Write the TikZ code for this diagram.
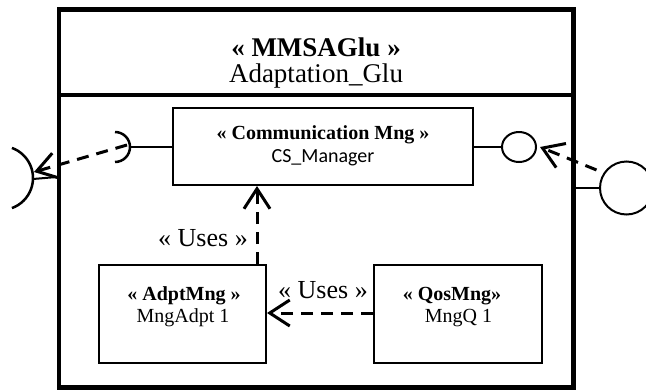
\documentclass[tikz,border=0pt]{standalone}
\usepackage{fontspec}
\setmainfont{Liberation Serif}
\newfontfamily\calibfont{Carlito}
\usetikzlibrary{arrows.meta,shapes.geometric,calc}
\begin{document}
\begin{tikzpicture}[x=1pt,y=-1pt,
  box/.style={draw,line width=2pt,inner sep=0pt},
  thinline/.style={line width=2pt},
  sockline/.style={line width=2.5pt},
  depend/.style={line width=3pt,dash pattern=on 12pt off 8pt,-{Straight Barb[length=20pt,width=26pt]}},
  hdr/.style={font=\fontsize{27}{30}\selectfont,anchor=base,inner sep=0pt},
  lbl/.style={font=\fontsize{20}{24}\selectfont,anchor=base,inner sep=0pt},
  uses/.style={font=\fontsize{26}{30}\selectfont,anchor=base,inner sep=0pt}]
\useasboundingbox (0,0) rectangle (646,389);
% outer component
\node[box,line width=4.5pt,minimum width=514.5pt,minimum height=378pt] (outer) at (316.25,198.5) {};
\coordinate (sep) at (0,95);
\draw[line width=4.5pt] (outer.west |- sep) -- (outer.east |- sep);
\node[hdr] (ost) at (316,56) {\bfseries « MMSAGlu »};
\node[hdr] (oname) at (316,82) {Adaptation\_Glu};
% inner components
\node[box,minimum width=300pt,minimum height=77pt] (cs) at (323,146.5) {};
\node[lbl] (csst) at (323,139) {\bfseries « Communication Mng »};
\node[lbl] (csname) at (323,162.7) {\calibfont CS\_Manager};
\node[box,minimum width=167pt,minimum height=98pt] (adpt) at (182.5,314) {};
\node[lbl] (adst) at (184,300) {\bfseries « AdptMng »};
\node[lbl] (adname) at (183,322.7) {MngAdpt 1};
\node[box,minimum width=168pt,minimum height=98pt] (qos) at (458,314) {};
\node[lbl] (qst) at (452,300) {\bfseries « QosMng»};
\node[lbl] (qname) at (458.5,322.7) {MngQ 1};
% uses dependencies
\coordinate (vx) at (257,0);
\draw[depend] (adpt.north -| vx) -- (cs.south -| vx);
\node[uses] (u1) at (203,246.7) {« Uses »};
\coordinate (hy) at (0,313);
\draw[depend] (qos.west |- hy) -- (adpt.east |- hy);
\node[uses] (u2) at (323,298) {« Uses »};
% left: required interfaces
\coordinate (sockL) at (115,147);
\draw[sockline] ([yshift=15pt]sockL) arc[start angle=90,end angle=-90,radius=15pt];
\draw[thinline] ([xshift=15pt]sockL) -- (cs.west |- sockL);
\coordinate (sockO) at (1,178);
\draw[sockline] ([shift={(70:32pt)}]sockO) arc[start angle=70,end angle=-70,radius=32pt];
\draw[thinline] ([xshift=32pt,yshift=-1pt]sockO) -- (outer.west |- 0,177);
\draw[depend] ([xshift=12pt,yshift=2pt]sockL) -- ([xshift=33pt,yshift=6pt]sockO);
% right: provided interfaces
\node[ellipse,draw,line width=2pt,minimum width=34pt,minimum height=30pt,inner sep=0pt] (lol) at (519,147) {};
\draw[thinline] (cs.east |- lol) -- (lol.west);
\node[circle,draw,line width=2pt,minimum size=53pt,inner sep=0pt] (ball) at (626.5,188) {};
\draw[thinline] (outer.east |- ball) -- (ball.west);
\draw[depend] ($(ball.center)+(149:35pt)$) -- ([xshift=3pt]lol.east);
\end{tikzpicture}
\end{document}
